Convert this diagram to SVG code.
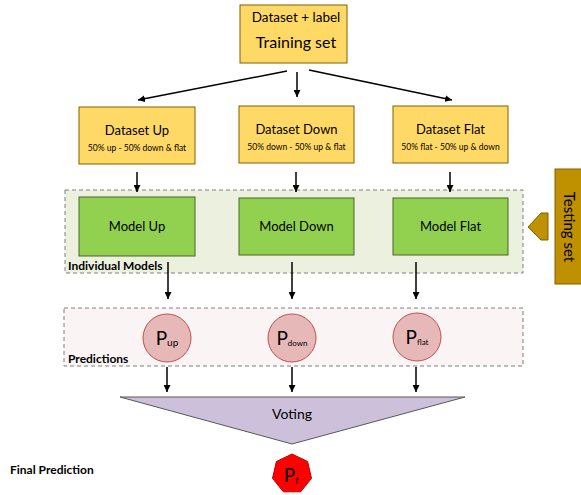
<svg xmlns="http://www.w3.org/2000/svg" width="581" height="495" viewBox="0 0 581 495">
<defs>
<marker id="ah" viewBox="0 0 10 10" refX="10" refY="5" markerWidth="7" markerHeight="7" markerUnits="userSpaceOnUse" orient="auto">
<path d="M0,0 L10,5 L0,10 z" fill="#000"/>
</marker>
<style>
.t{font-family:Lato,"Open Sans","Liberation Sans",sans-serif;fill:#000;text-anchor:middle}
.ds{fill:#ffd966;stroke:#7f6000;stroke-width:1}
.md{fill:#92d050;stroke:#4f6228;stroke-width:1}
.pc{fill:#e6b8b7;stroke:#c0504d;stroke-width:1}
.c{stroke:#000;stroke-width:1.5;fill:none;marker-end:url(#ah)}
.lbl{font-family:Lato,"Open Sans","Liberation Sans",sans-serif;font-weight:bold;font-size:12px;fill:#000}
</style>
</defs>
<rect width="581" height="495" fill="#fff"/>

<g id="group-models">
<rect x="65" y="190" width="458" height="83" fill="#ebf1de" stroke="#7f7f7f" stroke-dasharray="4,3"/>
<text class="lbl" x="68" y="270">Individual Models</text>
</g>
<g id="group-predictions">
<rect x="64" y="308" width="459" height="58" fill="#fbf4f4" stroke="#7f7f7f" stroke-dasharray="4,3"/>
<text class="lbl" x="68" y="363" font-size="13">Predictions</text>
</g>

<g id="connectors">
<line class="c" x1="287" y1="71" x2="138" y2="100"/>
<line class="c" x1="297" y1="72" x2="297" y2="97"/>
<line class="c" x1="309" y1="70" x2="452" y2="100"/>
<line class="c" x1="137" y1="172" x2="137" y2="192"/>
<line class="c" x1="296" y1="172" x2="296" y2="192"/>
<line class="c" x1="450" y1="172" x2="450" y2="192"/>
<line class="c" x1="168" y1="262" x2="168" y2="299"/>
<line class="c" x1="292" y1="262" x2="292" y2="299"/>
<line class="c" x1="416" y1="262" x2="416" y2="299"/>
<line class="c" x1="167" y1="367" x2="167" y2="392"/>
<line class="c" x1="292" y1="367" x2="292" y2="392"/>
<line class="c" x1="416" y1="367" x2="416" y2="392"/>
</g>

<g id="training">
<rect class="ds" x="240" y="5" width="107" height="58"/>
<text class="t" x="296" y="22" font-size="13.5">Dataset + label</text>
<text class="t" x="296" y="48" font-size="16">Training set</text>
</g>

<g id="dataset-up">
<rect class="ds" x="79" y="107" width="116" height="57"/>
<text class="t" x="137" y="135" font-size="13">Dataset Up</text>
<text class="t" x="137" y="151" font-size="8.5">50% up - 50% down &amp; flat</text>
</g>
<g id="dataset-down">
<rect class="ds" x="239" y="106" width="115" height="57"/>
<text class="t" x="296.5" y="134" font-size="13">Dataset Down</text>
<text class="t" x="296.5" y="150" font-size="8.5">50% down - 50% up &amp; flat</text>
</g>
<g id="dataset-flat">
<rect class="ds" x="393" y="106" width="115" height="57"/>
<text class="t" x="450.5" y="134" font-size="13">Dataset Flat</text>
<text class="t" x="450.5" y="150" font-size="8.5">50% flat - 50% up &amp; down</text>
</g>

<g id="model-up">
<rect class="md" x="79" y="197" width="116" height="59"/>
<text class="t" x="137" y="231" font-size="13">Model Up</text>
</g>
<g id="model-down">
<rect class="md" x="239" y="198" width="115" height="57"/>
<text class="t" x="296.5" y="231" font-size="13">Model Down</text>
</g>
<g id="model-flat">
<rect class="md" x="393" y="198" width="115" height="57"/>
<text class="t" x="450.5" y="231" font-size="13">Model Flat</text>
</g>

<g id="testing-set">
<rect x="555" y="169" width="30" height="115" fill="#bf9000" stroke="#7f6000"/>
<text class="t" transform="translate(564,227) rotate(90)" font-size="15">Testing set</text>
<path d="M528,227 L541,213 L548,213 L548,240 L541,240 Z" fill="#bf9000" stroke="#7f6000"/>
</g>

<g id="p-up">
<circle class="pc" cx="167" cy="338" r="24"/>
<text x="167" y="345" class="t" font-size="19">P<tspan font-size="10" dy="1">up</tspan></text>
</g>
<g id="p-down">
<circle class="pc" cx="292" cy="338" r="24"/>
<text x="292" y="345" class="t" font-size="19">P<tspan font-size="8" dy="1">down</tspan></text>
</g>
<g id="p-flat">
<circle class="pc" cx="417" cy="337" r="24"/>
<text x="417" y="344" class="t" font-size="19">P<tspan font-size="8" dy="1">flat</tspan></text>
</g>

<g id="voting">
<path d="M120,397 L465,397 L292,444 Z" fill="#ccc0da" stroke="#595959"/>
<text class="t" x="292" y="419" font-size="14">Voting</text>
</g>

<g id="final">
<text class="lbl" x="10" y="474" font-size="13">Final Prediction</text>
<path d="M292.0,454.0 L307.6,461.5 L311.5,478.3 L300.7,491.8 L283.3,491.8 L272.5,478.3 L276.4,461.5 Z" fill="#ff0000" stroke="#c00000"/>
<text class="t" x="291" y="482" font-size="19">P<tspan font-size="9" dy="2">f</tspan></text>
</g>
</svg>
